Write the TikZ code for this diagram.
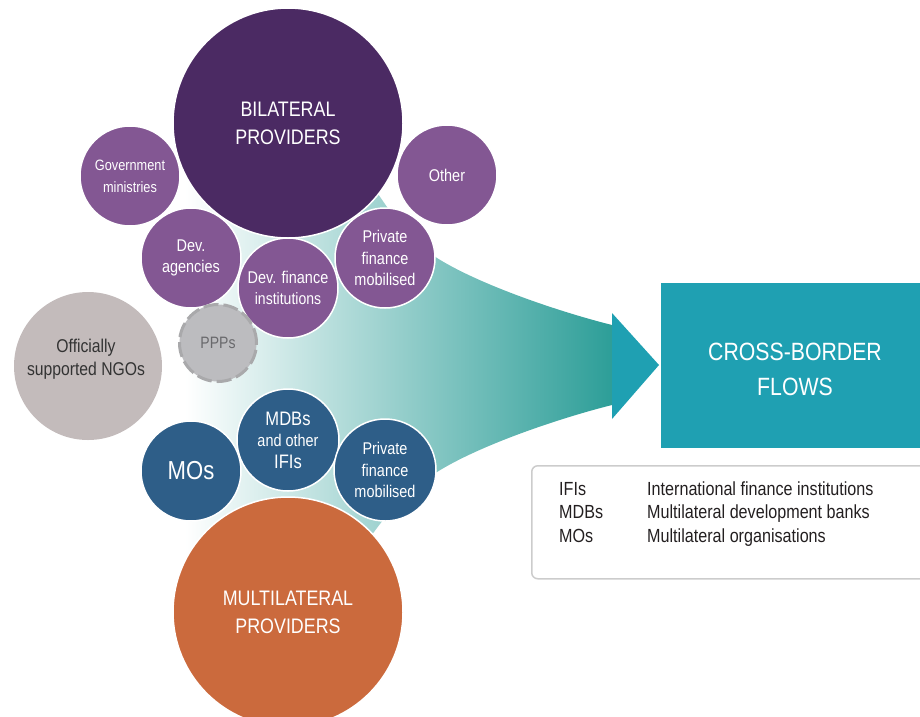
\documentclass[tikz,border=0pt]{standalone}
\usepackage{fontspec}
\setmainfont{Liberation Sans}[FakeStretch=0.85]
\definecolor{bilat}{RGB}{75,42,99}
\definecolor{purp}{RGB}{131,87,147}
\definecolor{ngo}{RGB}{195,187,187}
\definecolor{pppfill}{RGB}{188,188,191}
\definecolor{pppline}{RGB}{169,169,171}
\definecolor{moblue}{RGB}{46,94,136}
\definecolor{orng}{RGB}{203,106,61}
\definecolor{tealbox}{RGB}{31,160,178}
\definecolor{fanend}{RGB}{45,158,152}
\definecolor{legline}{RGB}{204,204,204}
\definecolor{legtext}{RGB}{35,31,32}
\definecolor{ngotext}{RGB}{51,51,51}
\definecolor{ppptext}{RGB}{105,105,108}
\newcommand\myfs[2]{\fontsize{#1}{#2}\selectfont}
\begin{document}
\begin{tikzpicture}[x=1pt,y=-1pt,
  bub/.style={circle, draw=white, line width=1.5pt, inner sep=0pt, align=center, text=white},
  bigbub/.style={bub, minimum size=230pt, font=\myfs{21}{28}},
  smallbub/.style={bub, minimum size=100pt, font=\myfs{17}{21.5}},
  legabbr/.style={anchor=base west, inner sep=0pt, text=legtext, font=\myfs{19}{23}},
]
\useasboundingbox (0,0) rectangle (920,716);
% gradient fan
\shade[left color=white, right color=fanend]
  (185,150) -- (360,165) .. controls (390,215) and (410,240) .. (437,258)
  .. controls (480,285) and (560,312) .. (612,325) -- (612,405)
  .. controls (560,418) and (480,445) .. (437,472)
  .. controls (405,492) and (385,515) .. (365,545) -- (185,560) -- cycle;
% arrow head
\fill[tealbox] (612,313) -- (659,365) -- (612,419) -- cycle;
% cross-border box
\node[fill=tealbox, minimum width=259pt, minimum height=165pt, inner sep=0pt, anchor=north west] (cbf) at (661,283) {};
\node[text=white, align=center, font=\myfs{25}{35}] (cbft) at (795,369) {CROSS-BORDER\\FLOWS};
% big circles
\node[bigbub, fill=bilat] (bil) at (288,123) {BILATERAL\\PROVIDERS};
\node[bigbub, fill=orng] (mul) at (288,612) {};
\node[text=white, align=center, font=\myfs{21}{28}] (mult) at (288,612) {MULTILATERAL\\PROVIDERS};
% bilateral satellites
\node[smallbub, fill=purp, font=\myfs{15}{22}] (gov) at (130,176) {Government\\ministries};
\node[smallbub, fill=purp] (oth) at (447,175) {Other};
\node[smallbub, fill=purp] (dev) at (191,258) {Dev.\\agencies};
\node[smallbub, fill=purp] (dfi) at (288,288) {Dev. finance\\{\myfs{16.5}{21}institutions}};
\node[smallbub, fill=purp] (pfm1) at (385,258) {Private\\finance\\mobilised};
% others
\node[circle, fill=ngo, minimum size=148pt, inner sep=0pt] (ngo) at (88,366) {};
\node[text=ngotext, align=center, font=\myfs{18.5}{23}] (ngot) at (86,359) {Officially\\supported NGOs};
\node[circle, fill=pppfill, draw=pppline, line width=3pt, dash pattern=on 15pt off 5pt,
      minimum size=77pt, inner sep=0pt, text=ppptext, font=\myfs{16.5}{20}] (ppp) at (218,343) {PPPs};
% multilateral satellites
\node[smallbub, fill=moblue, font=\myfs{26}{30}] (mos) at (191,471) {MOs};
\node[smallbub, fill=moblue, minimum size=102pt] (mdb) at (288,440)
  {{\myfs{19.5}{26}MDBs}\\{\myfs{17}{26}and other}\\{\myfs{19.5}{26}IFIs}};
\node[smallbub, fill=moblue, minimum size=102pt] (pfm2) at (385,470) {Private\\finance\\mobilised};
% legend
\node[draw=legline, line width=1.5pt, rounded corners=6pt, minimum width=400pt, minimum height=113pt,
      inner sep=0pt, anchor=north west] (leg) at (531,465) {};
\node[legabbr] (l1a) at (559,495) {IFIs};
\node[legabbr] (l2a) at (559,518.5) {MDBs};
\node[legabbr] (l3a) at (559,542) {MOs};
\node[legabbr] (l1b) at (647,495) {International finance institutions};
\node[legabbr] (l2b) at (647,518.5) {Multilateral development banks};
\node[legabbr] (l3b) at (647,542) {Multilateral organisations};
\end{tikzpicture}
\end{document}
